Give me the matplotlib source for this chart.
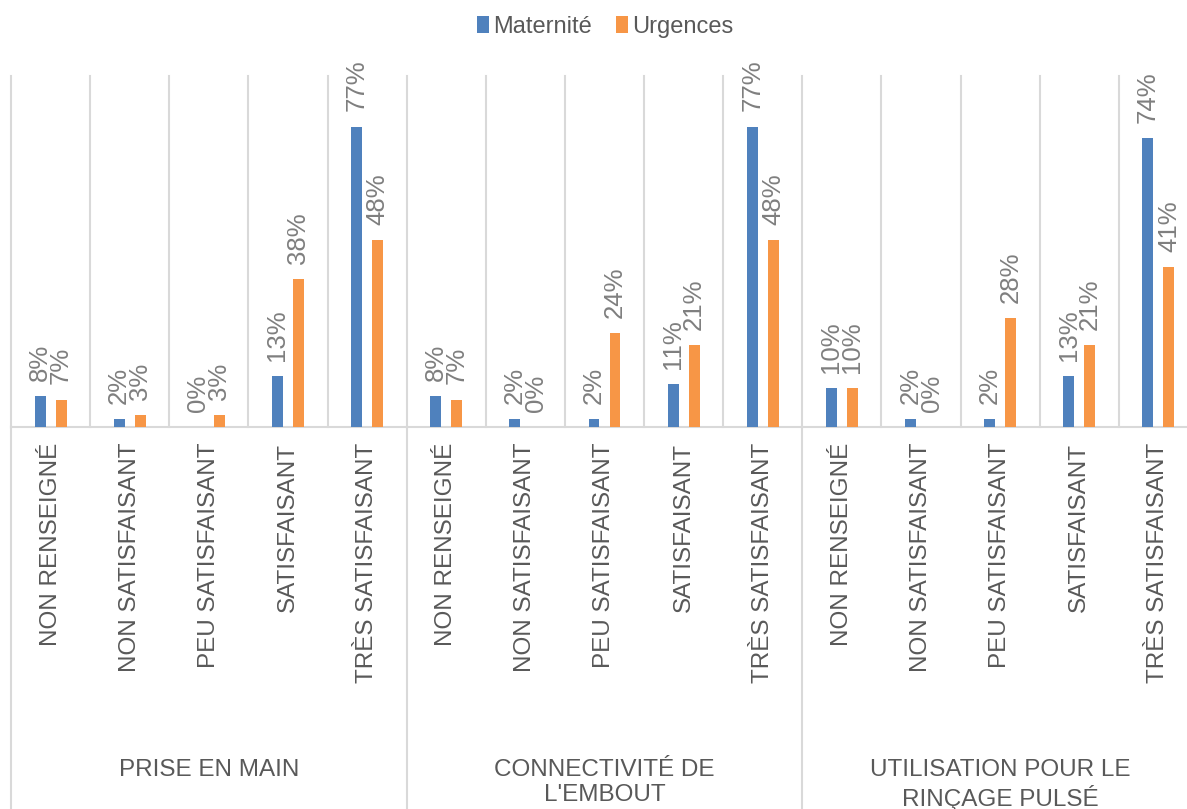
import matplotlib
matplotlib.use("Agg")
import matplotlib.pyplot as plt
import matplotlib.transforms as mtransforms
from matplotlib.patches import Patch
import numpy as np

plt.rcParams['font.family'] = ['Liberation Sans', 'DejaVu Sans']

# Data
groups = ["PRISE EN MAIN", "CONNECTIVITÉ DE\nL'EMBOUT", "UTILISATION POUR LE\nRINÇAGE PULSÉ"]
categories = ["NON RENSEIGNÉ", "NON SATISFAISANT", "PEU SATISFAISANT",
              "SATISFAISANT", "TRÈS SATISFAISANT"]
maternite = [8, 2, 0, 13, 77, 8, 2, 2, 11, 77, 10, 2, 2, 13, 74]
urgences = [7, 3, 3, 38, 48, 7, 0, 24, 21, 48, 10, 0, 28, 21, 41]
series_names = ["Maternité", "Urgences"]

BLUE = "#4f81bd"
ORANGE = "#f79646"
GRID = "#d9d9d9"
TEXT = "#595959"
LABEL = "#7f7f7f"

W, H = 1187, 809
fig = plt.figure(figsize=(W / 100, H / 100), dpi=100)
ax = fig.add_axes([11 / W, 1 - 427 / H, (1198 - 11) / W, (427 - 76) / H])

n = len(maternite)
x = np.arange(n)
bw = 0.138
off = 0.133

ax.bar(x - off, maternite, width=bw, color=BLUE, zorder=3)
ax.bar(x + off, urgences, width=bw, color=ORANGE, zorder=3)

ax.set_xlim(-0.5, n - 0.5)
ax.set_ylim(0, 90)
ax.axis('off')

# Vertical separators between categories
for b in np.arange(-0.5, n - 0.5 + 1e-9, 1.0):
    ax.plot([b, b], [0, 90], color=GRID, lw=1.5, zorder=1, clip_on=False)
# Baseline
ax.plot([-0.5, n - 0.5], [0, 0], color=GRID, lw=1.5, zorder=2, clip_on=False)

# Group separators extending through the label area
trans = mtransforms.blended_transform_factory(ax.transData, ax.transAxes)
for b in [-0.5, 4.5, 9.5]:
    ax.plot([b, b], [0, -1.3], color=GRID, lw=1.5, transform=trans, clip_on=False)

# Value labels
for xi, v in zip(x - off, maternite):
    ax.annotate(f"{v}%", (xi, v), xytext=(0, 11), textcoords='offset points',
                rotation=90, ha='center', va='bottom', fontsize=18.5, color=LABEL)
for xi, v in zip(x + off, urgences):
    ax.annotate(f"{v}%", (xi, v), xytext=(0, 11), textcoords='offset points',
                rotation=90, ha='center', va='bottom', fontsize=18.5, color=LABEL)

# Category labels
label_y = -(443 - 427) / (427 - 76)
for i in range(n):
    ax.text(i, label_y, categories[i % len(categories)], transform=trans,
            rotation=90, ha='center', va='top', fontsize=17.5, color=TEXT)

# Group labels
group_y = -(759 - 427) / (427 - 76)
for g, name in enumerate(groups):
    ax.text(g * 5 + 2, group_y, name, transform=trans, ha='center', va='top',
            fontsize=17.5, color=TEXT, linespacing=1.2, multialignment='center')

# Legend
handles = [Patch(facecolor=BLUE), Patch(facecolor=ORANGE)]
fig.legend(handles, series_names, loc='center', bbox_to_anchor=(0.51, 1 - 27 / H),
           ncol=2, frameon=False, fontsize=17, labelcolor=TEXT,
           handlelength=0.5, handleheight=0.7, handletextpad=0.2,
           columnspacing=1.0, borderaxespad=0)

fig.savefig("out.png", dpi=100)
